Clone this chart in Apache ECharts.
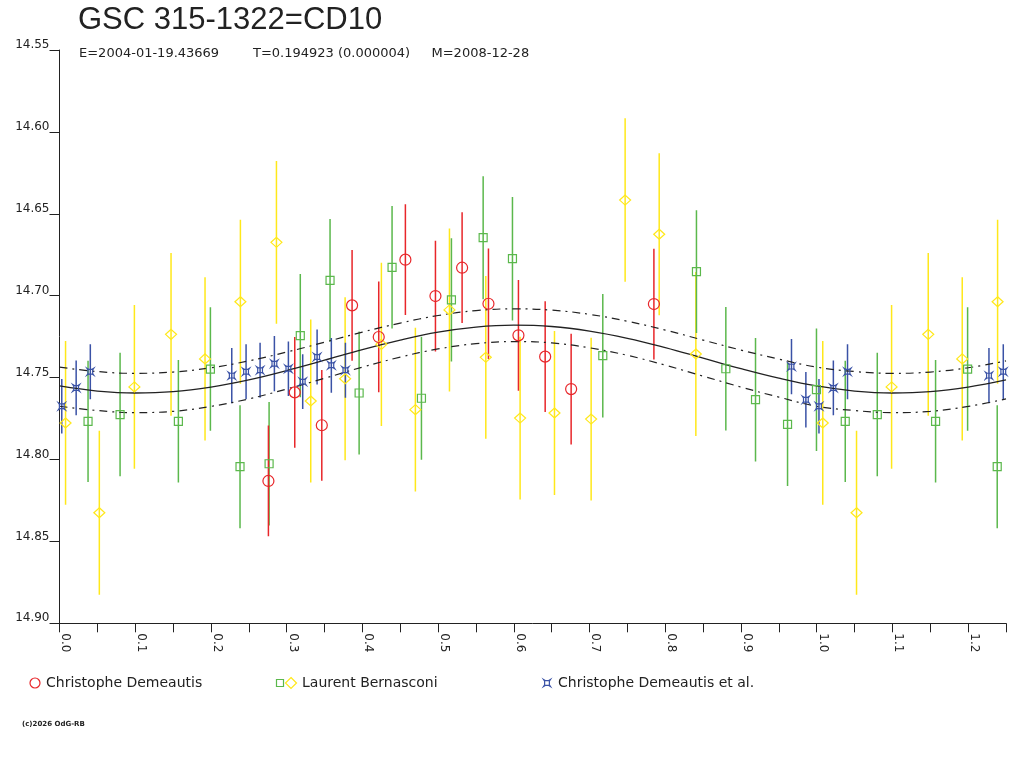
<!DOCTYPE html>
<html>
<head>
<meta charset="utf-8">
<script src="https://cdn.jsdelivr.net/npm/echarts@6/dist/echarts.min.js"></script>
<style>
html,body{margin:0;padding:0;background:#fff;}
#chart{width:1024px;height:768px;}
</style>
</head>
<body>
<div id="chart"></div>
<script>
// ---- data (phase in [0,1), magnitude, error) ----
const redPhase = [0.2759,0.3107,0.3464,0.3864,0.4216,0.4568,0.4965,0.5317,0.5665,0.6061,0.6414,0.6757,0.7850];
const redMag   = [14.8131,14.7590,14.7791,14.7059,14.7252,14.6780,14.7002,14.6829,14.7049,14.7242,14.7372,14.7570,14.7051];
const redErr   = [0.0338,0.0338,0.0338,0.0338,0.0338,0.0338,0.0338,0.0338,0.0337,0.0338,0.0338,0.0338,0.0338];

const greenPhase = [0.0377,0.0800,0.1570,0.1993,0.2384,0.2768,0.3180,0.3573,0.3957,0.4392,0.4780,0.5176,0.5595,0.5982,0.7175,0.8412,0.8800,0.9192,0.9615,0.9997];
const greenMag   = [14.7767,14.7726,14.7767,14.7448,14.8044,14.8026,14.7244,14.6906,14.7594,14.6827,14.7626,14.7026,14.6646,14.6774,14.7366,14.6853,14.7446,14.7635,14.7785,14.7574];
const greenErr   = [0.0370,0.0377,0.0374,0.0377,0.0375,0.0377,0.0376,0.0375,0.0375,0.0374,0.0375,0.0376,0.0376,0.0377,0.0377,0.0375,0.0377,0.0377,0.0377,0.0374];

const yellowPhase = [0.0080,0.0526,0.0989,0.1473,0.1922,0.2389,0.2865,0.3318,0.3772,0.4251,0.4700,0.5150,0.5630,0.6083,0.6537,0.7021,0.7470,0.7920,0.8404];
const yellowMag   = [14.7777,14.8325,14.7557,14.7236,14.7386,14.7037,14.6674,14.7643,14.7507,14.7297,14.7696,14.7087,14.7376,14.7747,14.7716,14.7753,14.6416,14.6625,14.7356];
const yellowErr   = [0.0500,0.0500,0.0500,0.0497,0.0498,0.0500,0.0497,0.0497,0.0497,0.0498,0.0500,0.0498,0.0497,0.0497,0.0500,0.0497,0.0499,0.0495,0.0500];

const bluePhase = [0.0030,0.0220,0.0407,0.2275,0.2464,0.2649,0.2838,0.3023,0.3212,0.3402,0.3590,0.3776,0.9667,0.9857];
const blueMag   = [14.7675,14.7563,14.7464,14.7488,14.7464,14.7455,14.7415,14.7446,14.7525,14.7374,14.7425,14.7455,14.7433,14.7635];
const blueErr   = [0.0167,0.0167,0.0168,0.0168,0.0168,0.0168,0.0169,0.0167,0.0167,0.0168,0.0167,0.0168,0.0169,0.0169];

// fitted light curve and its envelope
const curvePhase = [0.00,0.05,0.10,0.15,0.20,0.25,0.30,0.35,0.40,0.45,0.50,0.55,0.60,0.65,0.70,0.75,0.80,0.85,0.90,0.95,1.00,1.05,1.10,1.15,1.20,1.25];
const fitMag   = [14.7551,14.7582,14.7594,14.7586,14.7558,14.7514,14.7457,14.7394,14.7329,14.7271,14.7223,14.7192,14.7180,14.7188,14.7216,14.7260,14.7317,14.7381,14.7445,14.7503,14.7551,14.7582,14.7594,14.7586,14.7558,14.7514];
const upperMag = [14.7436,14.7463,14.7474,14.7466,14.7440,14.7398,14.7344,14.7284,14.7222,14.7167,14.7121,14.7091,14.7080,14.7088,14.7114,14.7156,14.7210,14.7271,14.7332,14.7387,14.7436,14.7463,14.7474,14.7466,14.7440,14.7398];
const lowerMag = [14.7675,14.7701,14.7714,14.7706,14.7676,14.7630,14.7570,14.7504,14.7436,14.7375,14.7325,14.7293,14.7280,14.7288,14.7318,14.7364,14.7424,14.7491,14.7558,14.7619,14.7675,14.7701,14.7714,14.7706,14.7676,14.7630];

const yTicks = [14.55,14.60,14.65,14.70,14.75,14.80,14.85,14.90];

const titleText = 'GSC 315-1322=CD10';
const subTexts = ['E=2004-01-19.43669', 'T=0.194923 (0.000004)', 'M=2008-12-28'];
const legendNames = ['Christophe Demeautis', 'Laurent Bernasconi', 'Christophe Demeautis et al.'];
const copyright = '(c)2026 OdG-RB';

const PHASE_MAX = 1.25;

// ---- colours / styles ----
const RED = '#e8262a', GREEN = '#5bb84c', YELLOW = '#ffe81a', BLUE = '#3a52a6', INK = '#222222';
const STAR_PTS = [[0,0],[2.5,1.6],[7.5,1.6],[10,0],[8.4,2.5],[8.4,7.5],[10,10],[7.5,8.4],[2.5,8.4],[0,10],[1.6,7.5],[1.6,2.5]];
const BLUE_SYMBOL = 'path://M' + STAR_PTS.map(p => p[0] + ',' + p[1]).join('L') + 'Z';

function fold(ph, mag, err) {
  const out = [];
  for (let i = 0; i < ph.length; i++) out.push([ph[i], mag[i], err[i]]);
  for (let i = 0; i < ph.length; i++) if (ph[i] + 1 <= PHASE_MAX) out.push([ph[i] + 1, mag[i], err[i]]);
  return out;
}
function pairs(xs, ys) { return xs.map((x, i) => [x, ys[i]]); }

function errBars(name, data, color) {
  return {
    type: 'custom', name: name, data: data, silent: true, clip: true, z: 2,
    renderItem: function (params, api) {
      const x = api.value(0), y = api.value(1), e = api.value(2);
      const p1 = api.coord([x, y - e]);
      const p2 = api.coord([x, y + e]);
      return { type: 'line', shape: { x1: p1[0], y1: p1[1], x2: p2[0], y2: p2[1] },
               style: { stroke: color, lineWidth: 1.5 } };
    },
    encode: { x: 0, y: 1 }
  };
}
function marks(name, data, color, symbol, size) {
  return {
    type: 'scatter', name: name, data: data, symbol: symbol, symbolSize: size, z: 4,
    itemStyle: { color: 'rgba(0,0,0,0)', borderColor: color, borderWidth: 1.2, opacity: 1 },
    emphasis: { disabled: true }
  };
}

const red = fold(redPhase, redMag, redErr);
const green = fold(greenPhase, greenMag, greenErr);
const yellow = fold(yellowPhase, yellowMag, yellowErr);
const blue = fold(bluePhase, blueMag, blueErr);

const chart = echarts.init(document.getElementById('chart'), null, { renderer: 'canvas' });
const FONT = 'DejaVu Sans';
const dash = [8, 5, 2, 5];

chart.setOption({
  animation: false,
  backgroundColor: '#ffffff',
  grid: { left: 59.5, top: 50, right: 18, bottom: 144.7, containLabel: false },
  xAxis: {
    type: 'value', min: 0, max: PHASE_MAX, interval: 0.05,
    axisLine: { onZero: false, lineStyle: { color: INK, width: 1 } },
    axisTick: { length: 9, lineStyle: { color: INK } },
    splitLine: { show: false },
    axisLabel: {
      rotate: -90, margin: 10, align: 'left', verticalAlign: 'bottom', lineHeight: 12,
      fontFamily: FONT, fontSize: 12, color: INK,
      formatter: function (v) { return Math.round(v * 100) % 10 === 0 ? v.toFixed(1) : ''; }
    }
  },
  yAxis: {
    type: 'value', inverse: true, min: yTicks[0], max: yTicks[yTicks.length - 1], interval: 0.05,
    axisLine: { show: true, lineStyle: { color: INK, width: 1 } },
    axisTick: { show: true, length: 10, lineStyle: { color: INK } },
    splitLine: { show: false },
    axisLabel: {
      margin: 10, verticalAlign: 'bottom', lineHeight: 10,
      fontFamily: FONT, fontSize: 12, color: INK,
      formatter: function (v) { return v.toFixed(2); }
    }
  },
  series: [
    { type: 'line', data: pairs(curvePhase, fitMag), smooth: 0.4, showSymbol: false, symbol: 'none', z: 3,
      lineStyle: { color: INK, width: 1.3 }, silent: true },
    { type: 'line', data: pairs(curvePhase, upperMag), smooth: 0.4, showSymbol: false, symbol: 'none', z: 3,
      lineStyle: { color: INK, width: 1.2, type: dash }, silent: true },
    { type: 'line', data: pairs(curvePhase, lowerMag), smooth: 0.4, showSymbol: false, symbol: 'none', z: 3,
      lineStyle: { color: INK, width: 1.2, type: dash }, silent: true },
    errBars('yellowErr', yellow, YELLOW),
    errBars('greenErr', green, GREEN),
    errBars('blueErr', blue, BLUE),
    errBars('redErr', red, RED),
    marks(legendNames[1] + ' (diamond)', yellow, YELLOW, 'diamond', [11, 10]),
    marks(legendNames[1], green, GREEN, 'rect', 8),
    marks(legendNames[2], blue, BLUE, BLUE_SYMBOL, 7),
    marks(legendNames[0], red, RED, 'circle', 11)
  ],
  graphic: [
    { type: 'text', x: 78, y: 20.5, style: { text: titleText, font: '31px "Liberation Sans", Arial, sans-serif', fill: INK, verticalAlign: 'middle' } },
    { type: 'text', x: 79, y: 53.5, style: { text: subTexts[0], font: '13px "DejaVu Sans"', fill: INK, verticalAlign: 'middle' } },
    { type: 'text', x: 253, y: 53.5, style: { text: subTexts[1], font: '13px "DejaVu Sans"', fill: INK, verticalAlign: 'middle' } },
    { type: 'text', x: 431.5, y: 53.5, style: { text: subTexts[2], font: '13px "DejaVu Sans"', fill: INK, verticalAlign: 'middle' } },

    { type: 'circle', shape: { cx: 35, cy: 683, r: 5 }, style: { fill: 'none', stroke: RED, lineWidth: 1.2 } },
    { type: 'text', x: 46, y: 683, style: { text: legendNames[0], font: '14px "DejaVu Sans"', fill: INK, verticalAlign: 'middle' } },
    { type: 'rect', shape: { x: 276.5, y: 679.5, width: 7, height: 7 }, style: { fill: 'none', stroke: GREEN, lineWidth: 1.2 } },
    { type: 'polygon', shape: { points: [[291, 677.5], [296.5, 683], [291, 688.5], [285.5, 683]] }, style: { fill: 'none', stroke: YELLOW, lineWidth: 1.2 } },
    { type: 'text', x: 302, y: 683, style: { text: legendNames[1], font: '14px "DejaVu Sans"', fill: INK, verticalAlign: 'middle' } },
    { type: 'polygon', shape: { points: STAR_PTS.map(p => [543.5 + p[0] * 0.7, 679.5 + p[1] * 0.7]) },
      style: { fill: 'none', stroke: BLUE, lineWidth: 1.2 } },
    { type: 'text', x: 558, y: 683, style: { text: legendNames[2], font: '14px "DejaVu Sans"', fill: INK, verticalAlign: 'middle' } },

    { type: 'text', x: 22, y: 724, style: { text: copyright, font: 'bold 7px "DejaVu Sans"', fill: INK, verticalAlign: 'middle' } }
  ]
});
</script>
</body>
</html>
